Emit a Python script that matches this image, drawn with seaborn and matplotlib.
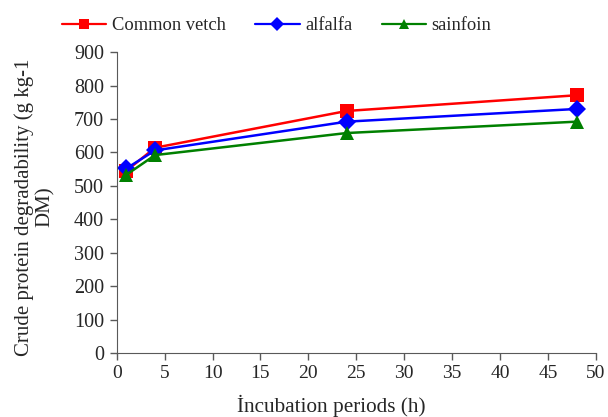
import pandas as pd
import numpy as np
import matplotlib
matplotlib.use("Agg")
import matplotlib.pyplot as plt
import seaborn as sns

# incubation time (h) and crude protein degradability (g kg-1 DM)
hours = [1, 4, 24, 48]
common_vetch = [545, 614, 724, 771]
alfalfa = [552, 606, 692, 730]
sainfoin = [533, 592, 658, 692]

species = ["Common vetch", "alfalfa", "sainfoin"]
colors = ["#ff0000", "#0000ff", "#008000"]
markers = ["s", "D", "^"]

df = pd.DataFrame({
    "hours": hours * 3,
    "value": common_vetch + alfalfa + sainfoin,
    "species": np.repeat(species, len(hours)),
})

sns.set_style("ticks")
plt.rcParams["font.family"] = ["Liberation Serif", "DejaVu Serif"]

fig = plt.figure(figsize=(6.08, 4.17), dpi=100)
ax = fig.add_axes([0.192, 0.1535, 0.788, 0.7215])

sns.lineplot(data=df, x="hours", y="value", hue="species", style="species",
             palette=dict(zip(species, colors)),
             markers=dict(zip(species, markers)),
             dashes=False, linewidth=1.8, markersize=9.5,
             markeredgewidth=0, ax=ax)

ax.set_xlim(0, 50)
ax.set_ylim(0, 900)
ax.set_xticks(range(0, 51, 5))
ax.set_yticks(range(0, 901, 100))
ax.tick_params(direction="out", length=5, width=1, color="#595959", pad=4)
ax.tick_params(axis="y", labelsize=14.5)
ax.tick_params(axis="x", labelsize=14)
for s in ["top", "right"]:
    ax.spines[s].set_visible(False)
for s in ["left", "bottom"]:
    ax.spines[s].set_color("#595959")

ax.set_xlabel("İncubation periods (h)", fontsize=15.3)
ax.set_ylabel("Crude protein degradability (g kg-1\nDM)", fontsize=15,
              linespacing=1.1)
ax.xaxis.set_label_coords(0.447, -0.138)
ax.yaxis.set_label_coords(-0.13, 0.485)

handles, labels = ax.get_legend_handles_labels()
for h in handles:
    h.set_markersize(7)
    h.set_linewidth(1.6)
ax.legend(handles, labels, loc="center left",
          bbox_to_anchor=(62 / 608, 1 - 26 / 417),
          bbox_transform=fig.transFigure,
          ncol=3, frameon=False, fontsize=13.3, handlelength=2.4,
          columnspacing=1.6, handletextpad=0.3, borderaxespad=0,
          borderpad=0)

fig.savefig("out.png", dpi=100)
